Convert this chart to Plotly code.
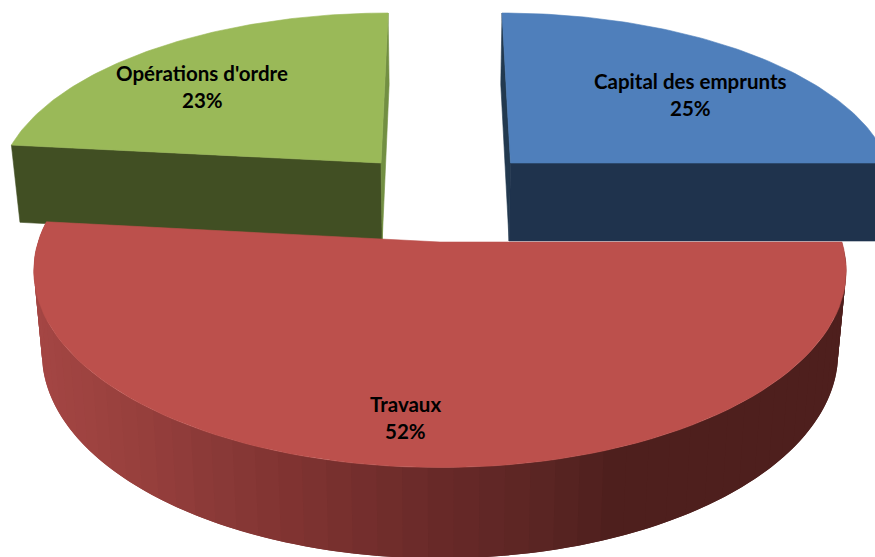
import numpy as np
import plotly.graph_objects as go

# shares, labels round them to whole percents
names = ["Capital des emprunts", "Travaux", "Opérations d'ordre"]
values = [25.0, 51.7, 23.3]

top_colors = ["#4F7FBB", "#BC504C", "#9AB958"]
side_colors = ["#1F334D", None, "#414F23"]
cut_colors = ["#22394F", None, "#728F42"]

# explosion of each slice: sideways in pixels, along the depth in radii
shift_x = [70.5, 0.0, -59.0]
shift_v = [0.0, -0.436, 0.0]
label_pos = [(690, 81), (405, 404), (202, 73)]

CX, R = 440, 378
HORIZON, A, K = -1085, 1248, 0.1366
DEPTH, BOTTOM_SCALE = 78, 0.98

# shading of the red rim, by screen x
rim_x = [36, 120, 200, 300, 440, 550, 620, 850]
rim_rgb = [
    (164, 70, 68), (154, 65, 62), (141, 59, 57), (127, 51, 49),
    (105, 42, 41), (90, 37, 35), (78, 31, 29), (78, 31, 29),
]


def project(theta, i):
    s = 1 / (1 + K * (np.cos(theta) + shift_v[i]))
    x = CX + (shift_x[i] + R * np.sin(theta)) * s
    return x, HORIZON + A * s, s


def project_apex(i):
    s = 1 / (1 + K * shift_v[i])
    return CX + shift_x[i] * s, HORIZON + A * s, s


def drop(x, y, s):
    return CX + (x - CX) * BOTTOM_SCALE, y + DEPTH * s**0.7


def poly(fig, xs, ys, color, line_width=0.6):
    fig.add_trace(
        go.Scatter(
            x=list(xs) + [xs[0]],
            y=list(ys) + [ys[0]],
            mode="lines",
            fill="toself",
            fillcolor=color,
            line=dict(color=color, width=line_width),
            hoverinfo="skip",
            showlegend=False,
        )
    )


fig = go.Figure()

edges = np.radians(np.cumsum([0.0] + values) * 3.6)
arcs = [np.linspace(edges[i], edges[i + 1], 90) for i in range(3)]

# blue and green first, the red slice sits over their feet
for i in (2, 0):
    ax, ay, asc = project_apex(i)
    bax, bay = drop(ax, ay, asc)

    # straight cut faces
    for theta, color in (
        (arcs[i][0], side_colors[i] if i == 2 else cut_colors[i]),
        (arcs[i][-1], cut_colors[i] if i == 2 else side_colors[i]),
    ):
        cx, cy, cs = project(theta, i)
        bx, by = drop(cx, cy, cs)
        poly(fig, [cx, ax, bax, bx], [cy, ay, bay, by], color)

    x, y, _ = project(arcs[i], i)
    poly(fig, [ax] + list(x), [ay] + list(y), top_colors[i])

# red rim in bands, each one runs under the next so no seams show
steps = np.linspace(edges[1], edges[2], 60)
for n in range(len(steps) - 1):
    t = np.linspace(steps[n], steps[min(n + 2, len(steps) - 1)], 6)
    x, y, s = project(t, 1)
    bx, by = drop(x, y, s)
    x0, _, _ = project(steps[n], 1)
    x1, _, _ = project(steps[n + 1], 1)
    mid = (x0 + x1) / 2
    rgb = [int(np.interp(mid, rim_x, [c[k] for c in rim_rgb])) for k in range(3)]
    poly(
        fig,
        list(x) + list(bx[::-1]),
        list(y) + list(by[::-1]),
        f"rgb({rgb[0]},{rgb[1]},{rgb[2]})",
        line_width=0,
    )

ax, ay, _ = project_apex(1)
x, y, _ = project(arcs[1], 1)
poly(fig, [ax] + list(x), [ay] + list(y), top_colors[1])

for name, value, (lx, ly) in zip(names, values, label_pos):
    for text, dy in ((name, 0), (f"{round(value)}%", 27)):
        fig.add_annotation(
            x=lx, y=ly + dy, text=text, showarrow=False,
            font=dict(family="Lato", size=20.5, color="#000000", weight="bold"),
        )

fig.update_xaxes(visible=False, range=[0, 875], fixedrange=True)
fig.update_yaxes(visible=False, range=[557, 0], fixedrange=True)
fig.update_layout(
    width=875,
    height=557,
    margin=dict(l=0, r=0, t=0, b=0),
    paper_bgcolor="white",
    plot_bgcolor="white",
    showlegend=False,
)

fig.write_html(
    "out.html",
    config=dict(displayModeBar=False),
    post_script="document.body.style.margin='0';document.body.style.overflow='hidden';",
)
